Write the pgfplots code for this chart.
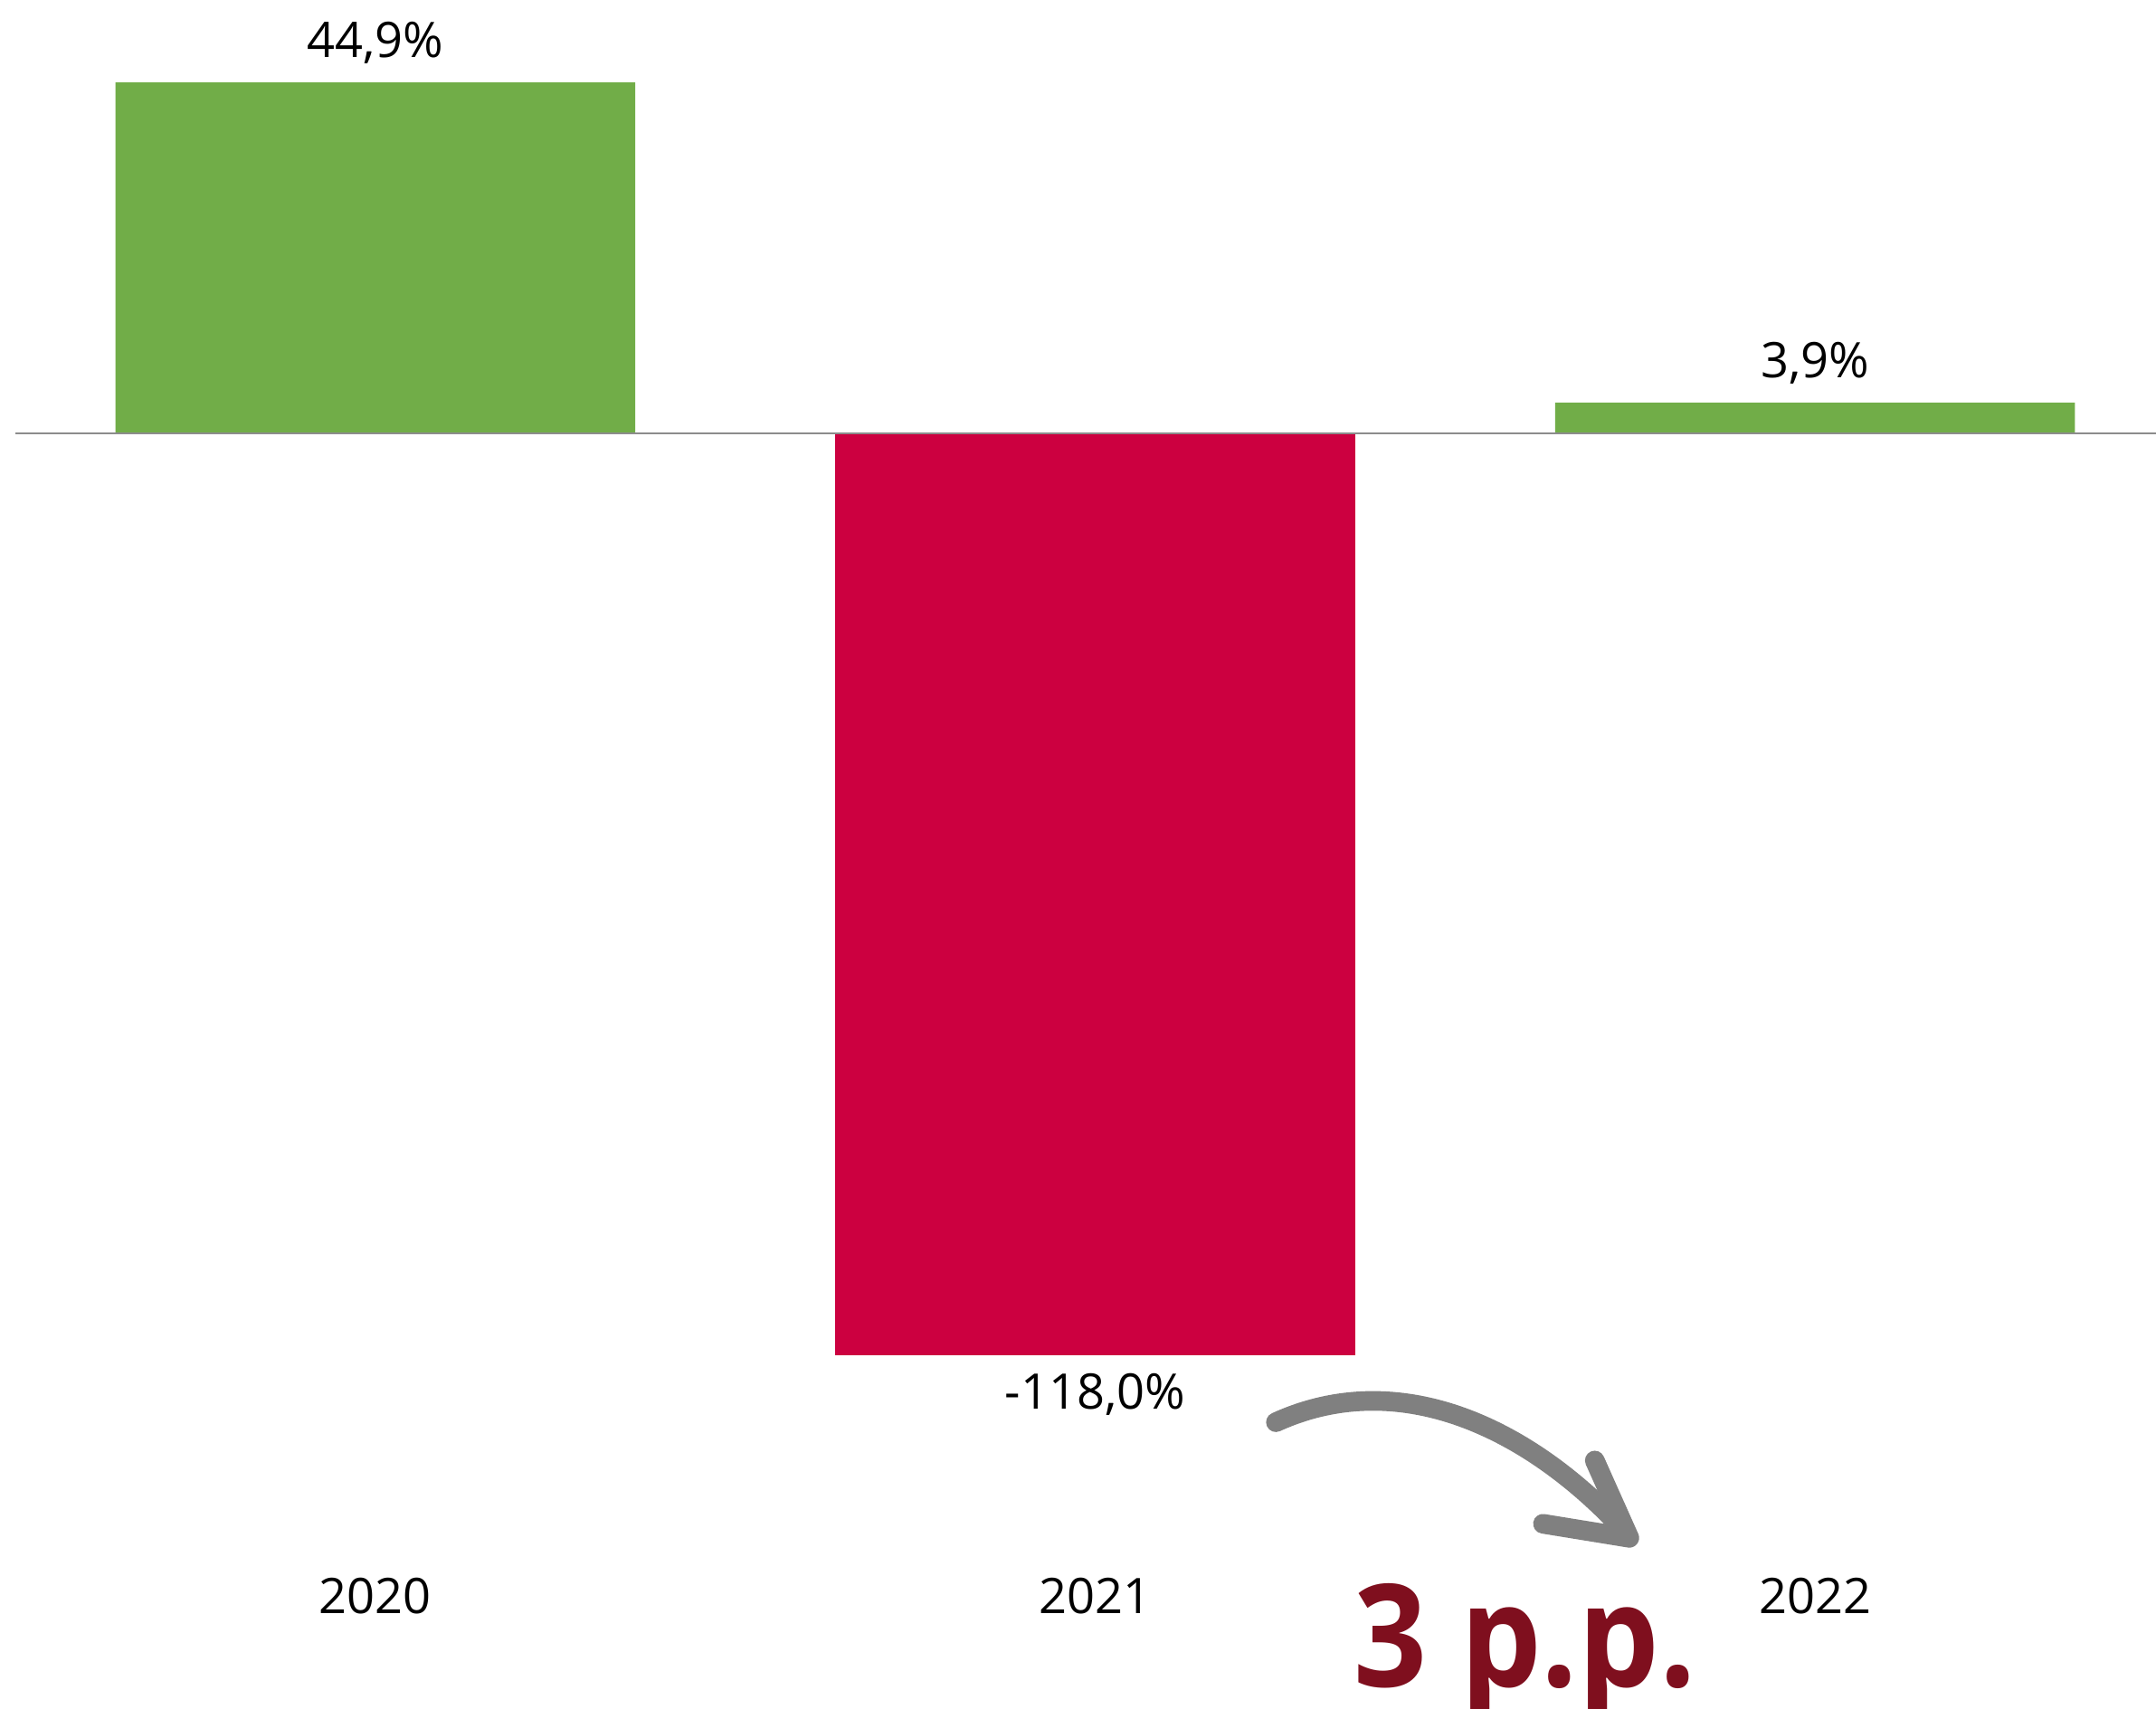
\documentclass[border=0pt]{standalone}
\usepackage{pgfplots}
\pgfplotsset{compat=1.18}
\usepackage{fontspec}
\setmainfont{Open Sans}
\definecolor{bargreen}{HTML}{71AD48}
\definecolor{barred}{HTML}{CC0040}
\definecolor{pptred}{HTML}{7F0F1E}
\definecolor{arrowgray}{HTML}{808080}
\begin{document}
\begin{tikzpicture}
\begin{axis}[
  name=main,
  scale only axis,
  width=17cm, height=13.469cm,
  xmin=-0.5215, xmax=2.4737,
  ymin=-163.2, ymax=55.46,
  axis lines=none,
  clip=false,
  ybar, bar width=0.722, bar shift=0pt,
  nodes near coords,
  point meta=explicit symbolic,
  every node near coord/.append style={font=\fontsize{11}{13}\selectfont, text=black, inner sep=4pt},
]
\addplot[fill=bargreen, draw=none] table[meta=lab] {
x y lab
0 44.9 44,9\%
2 3.9 3,9\%
};
\addplot[fill=barred, draw=none, every node near coord/.append style={anchor=north}] table[meta=lab] {
x y lab
1 -118.0 -118,0\%
};
\draw[color=gray!90, line width=0.5pt] (axis cs:-0.5,0) -- (axis cs:2.4737,0);
\node[font=\fontsize{11}{13}\selectfont] at (axis cs:0,-148.8) {2020};
\node[font=\fontsize{11}{13}\selectfont] at (axis cs:1,-148.8) {2021};
\node[font=\fontsize{11}{13}\selectfont] at (axis cs:2,-148.8) {2022};
\draw[arrowgray, line width=4.4pt, line cap=round]
  (axis cs:1.251,-126.6) .. controls (axis cs:1.42,-119.5) and (axis cs:1.60,-127) .. (axis cs:1.735,-140.5);
\draw[arrowgray, line width=4.4pt, line cap=round, line join=round]
  (axis cs:1.694,-131.5) -- (axis cs:1.742,-141.4) -- (axis cs:1.622,-139.6);
\node[anchor=base west, inner sep=0pt, text=pptred, font=\fontsize{32}{36}\selectfont\bfseries] at (axis cs:1.358,-160.5) {\scalebox{0.9}[1]{3 p.p.}};
\end{axis}
\pgfresetboundingbox
\useasboundingbox (main.south west) rectangle (main.north east);
\end{tikzpicture}
\end{document}
